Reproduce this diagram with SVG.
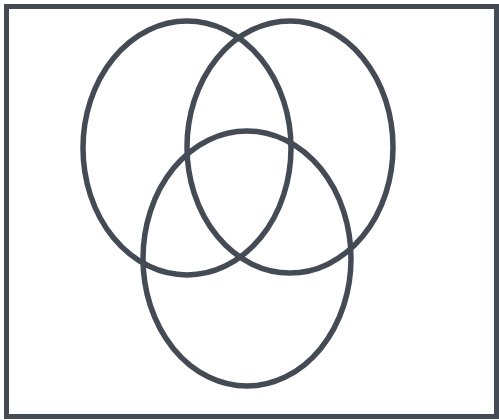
<svg xmlns="http://www.w3.org/2000/svg" width="499" height="420" viewBox="0 0 499 420">
<style>
.f{fill:none;stroke:#454b55;}
.e{stroke-width:5.5;}
</style>
<rect width="499" height="420" fill="#ffffff"/>
<rect class="f" x="6.5" y="6.5" width="490" height="410" stroke-width="5"/>
<g id="setA"><ellipse class="f e" cx="187" cy="148" rx="104" ry="127"/></g>
<g id="setB"><ellipse class="f e" cx="290" cy="147" rx="103" ry="126"/></g>
<g id="setC"><ellipse class="f e" cx="247" cy="258.5" rx="104" ry="127.5"/></g>
</svg>
